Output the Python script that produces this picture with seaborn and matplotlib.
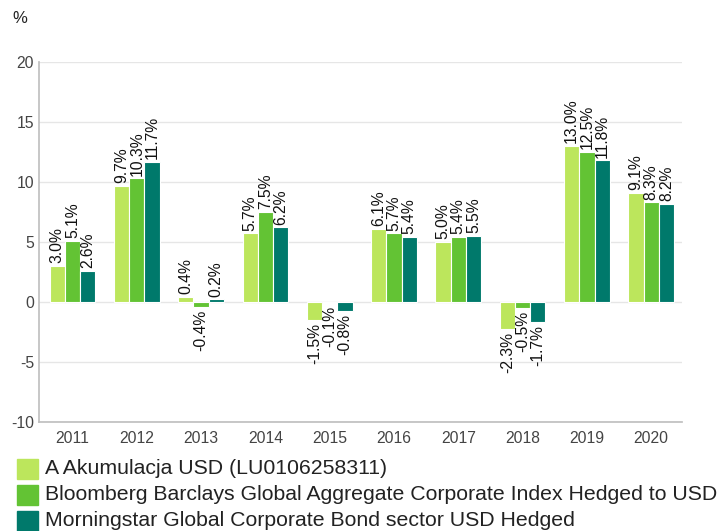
import matplotlib
matplotlib.use("Agg")
import matplotlib.pyplot as plt
import seaborn as sns
import pandas as pd

years = ["2011", "2012", "2013", "2014", "2015", "2016", "2017", "2018", "2019", "2020"]
fund = [3.0, 9.7, 0.4, 5.7, -1.5, 6.1, 5.0, -2.3, 13.0, 9.1]
index = [5.1, 10.3, -0.4, 7.5, -0.1, 5.7, 5.4, -0.5, 12.5, 8.3]
sector = [2.6, 11.7, 0.2, 6.2, -0.8, 5.4, 5.5, -1.7, 11.8, 8.2]
series_names = [
    "A Akumulacja USD (LU0106258311)",
    "Bloomberg Barclays Global Aggregate Corporate Index Hedged to USD",
    "Morningstar Global Corporate Bond sector USD Hedged",
]
colors = ["#bce65c", "#63c334", "#00796b"]

rows = []
for name, vals in zip(series_names, [fund, index, sector]):
    for y, v in zip(years, vals):
        rows.append({"year": y, "value": v, "series": name})
df = pd.DataFrame(rows)

sns.set_theme(style="white")
plt.rcParams["font.family"] = ["Liberation Sans", "DejaVu Sans"]
plt.rcParams["axes.unicode_minus"] = False

fig = plt.figure(figsize=(7.22, 5.31), dpi=100)
ax = fig.add_axes([0.0547, 0.206, 0.89, 0.677])

sns.barplot(data=df, x="year", y="value", hue="series", palette=colors,
            order=years, hue_order=series_names, width=0.71, saturation=1,
            edgecolor="white", linewidth=0.8, ax=ax, legend=False)

for cont in ax.containers:
    labels = [f"{v:.1f}%" for v in cont.datavalues]
    ax.bar_label(cont, labels=labels, rotation=90, padding=2,
                 fontsize=11.3, color="#111111")

ax.set_ylim(-10, 20)
ax.set_xlim(-0.513, 9.48)
ax.set_yticks(range(-10, 21, 5))
ax.yaxis.grid(True, color="#e6e6e6", linewidth=1)
ax.set_axisbelow(True)
for s in ["top", "right"]:
    ax.spines[s].set_visible(False)
ax.spines["left"].set_color("#c0c0c0")
ax.spines["bottom"].set_color("#c0c0c0")
ax.tick_params(axis="both", length=0, labelsize=11.3, colors="#444444")
ax.tick_params(axis="x", pad=7)
ax.tick_params(axis="y", pad=4)
ax.set_xlabel("")
ax.set_ylabel("")

fig.text(0.017, 0.965, "%", fontsize=12, color="#222222", va="center")

# legend drawn as stacked rows of colour swatch + label
leg_y = [0.117, 0.068, 0.019]
for name, c, yy in zip(series_names, colors, leg_y):
    fig.patches.append(plt.Rectangle((0.0235, yy - 0.019), 0.029, 0.038,
                                     transform=fig.transFigure, color=c))
    fig.text(0.062, yy, name, fontsize=15.3, color="#222222", va="center")

fig.savefig("out.png", dpi=100)
